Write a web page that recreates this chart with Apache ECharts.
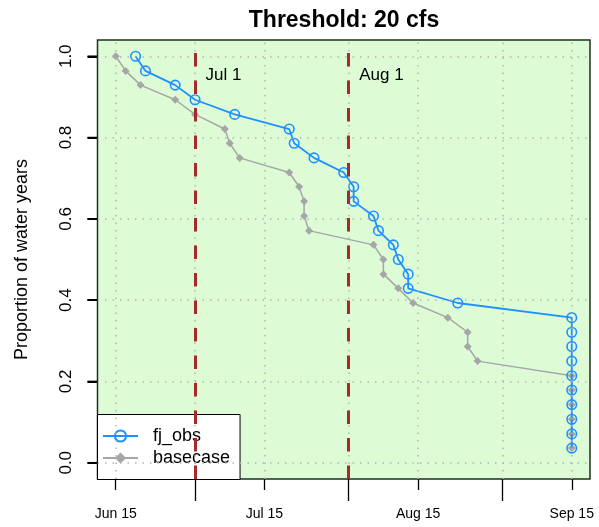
<!DOCTYPE html>
<html><head><meta charset="utf-8">
<script src="https://cdn.jsdelivr.net/npm/echarts@6/dist/echarts.min.js"></script>
<style>html,body{margin:0;padding:0;background:#fff}#c{width:599px;height:527px}</style>
</head><body><div id="c"></div>
<script>
// ---- data (dates as MM-DD within the season) ----
const fjDates = ['06-19','06-21','06-27','07-01','07-09','07-20','07-21','07-25','07-31','08-02',
                 '08-02','08-06','08-07','08-10','08-11','08-13','08-13','08-23','09-15','09-15',
                 '09-15','09-15','09-15','09-15','09-15','09-15','09-15','09-15'];
const fjProp = [1.000,0.964,0.929,0.893,0.857,0.821,0.786,0.750,0.714,0.679,
                0.643,0.607,0.571,0.536,0.500,0.464,0.429,0.393,0.357,0.321,
                0.286,0.250,0.214,0.179,0.143,0.107,0.071,0.036];
const baseDates = ['06-15','06-17','06-20','06-27','07-01','07-07','07-08','07-10','07-20','07-22',
                   '07-23','07-23','07-24','08-06','08-08','08-08','08-11','08-14','08-21','08-25',
                   '08-25','08-27','09-15','09-15','09-15','09-15','09-15','09-15'];
const baseProp = [1.000,0.964,0.929,0.893,0.857,0.821,0.786,0.750,0.714,0.679,
                  0.643,0.607,0.571,0.536,0.500,0.464,0.429,0.393,0.357,0.321,
                  0.286,0.250,0.214,0.179,0.143,0.107,0.071,0.036];
const xTickDates = ['06-15','07-15','08-15','09-15'];
const xTickLabels = ['Jun 15','Jul 15','Aug 15','Sep 15'];
const xMonthDates = ['07-01','08-01','09-01'];
const refDates = ['07-01','08-01'];
const refLabels = ['Jul 1','Aug 1'];
const yTicks = [0, 0.2, 0.4, 0.6, 0.8, 1.0];
const titleText = 'Threshold: 20 cfs';
const yTitle = 'Proportion of water years';

function dayOf(s){ const p = s.split('-').map(Number); return (Date.UTC(2001,p[0]-1,p[1]) - Date.UTC(2001,5,15))/86400000; }

const FONT = '"Liberation Sans", Arial, Helvetica, sans-serif';
const xMinD = dayOf(xTickDates[0]), xMaxD = dayOf(xTickDates[xTickDates.length-1]);
const xPad = (xMaxD - xMinD) * 0.04;
const yPad = (yTicks[yTicks.length-1] - yTicks[0]) * 0.04;
const xLo = xMinD - xPad, xHi = xMaxD + xPad;
const minorDays = xTickDates.map(dayOf);
const majorDays = xMonthDates.map(dayOf);
const refDays = refDates.map(dayOf);
const allGridDays = minorDays.concat(majorDays);

const chart = echarts.init(document.getElementById('c'), null, {renderer:'canvas'});
const option = {
  animation: false,
  title: { text: titleText, left: 344, top: 9, textAlign: 'center', padding: 0,
    textStyle: { fontFamily: FONT, fontWeight: 'bold', fontSize: 23, color: '#000' } },
  grid: { left: 97.5, right: 9, top: 40, bottom: 48, show: true, backgroundColor: '#ddfcd6',
    borderColor: '#1c301c', borderWidth: 1.5 },
  legend: {
    data: ['fj_obs','basecase'], orient: 'vertical', left: 97.5, top: 414.5,
    backgroundColor: '#fff', borderColor: '#000', borderWidth: 1, borderRadius: 0,
    padding: [12.5, 10, 12.5, 4.5], itemWidth: 35, itemHeight: 14, itemGap: 4,
    textStyle: { fontFamily: FONT, fontSize: 18, color: '#000', padding: [0,0,0,10] }
  },
  xAxis: [
    { type: 'value', min: xLo, max: xHi, position: 'bottom',
      axisLine: { show: false, onZero: false }, splitLine: { show: false },
      axisTick: { show: true, customValues: minorDays, length: 11, lineStyle: { color: '#000', width: 1.3 } },
      axisLabel: { show: true, customValues: minorDays, margin: 28, fontFamily: FONT, fontSize: 14, color: '#000',
        formatter: v => { const i = minorDays.indexOf(v); return i >= 0 ? xTickLabels[i] : ''; } } },
    { type: 'value', min: xLo, max: xHi, position: 'bottom',
      axisLine: { show: false, onZero: false }, splitLine: { show: false },
      axisTick: { show: true, customValues: majorDays, length: 22, lineStyle: { color: '#000', width: 1.3 } },
      axisLabel: { show: false } }
  ],
  yAxis: {
    type: 'value', position: 'left', min: yTicks[0] - yPad, max: yTicks[yTicks.length-1] + yPad,
    axisLine: { show: false, onZero: false }, splitLine: { show: false },
    axisTick: { show: true, customValues: yTicks, length: 10, lineStyle: { color: '#000', width: 2 } },
    axisLabel: { customValues: yTicks, rotate: 90, margin: 23, fontFamily: FONT, fontSize: 17, color: '#000',
      formatter: v => v.toFixed(1) },
    name: yTitle, nameLocation: 'middle', nameGap: 66,
    nameTextStyle: { fontFamily: FONT, fontSize: 18, color: '#000' }
  },
  series: [
    { name: 'grid', type: 'line', data: [], z: 1, silent: true,
      markLine: { silent: true, symbol: ['none','none'], animation: false, label: { show: false },
        lineStyle: { color: '#b4b4b4', type: [1.5, 6], width: 1.5 },
        emphasis: { disabled: true },
        data: allGridDays.map(d => ({ xAxis: d })).concat(yTicks.map(v => ({ yAxis: v }))) } },
    { name: 'ref', type: 'line', data: [], z: 2, silent: true,
      markLine: { silent: true, symbol: ['none','none'], animation: false, label: { show: false },
        lineStyle: { color: '#a52a2a', type: [13.5, 14], width: 3 },
        emphasis: { disabled: true },
        data: refDays.map(d => ({ xAxis: d })) },
      markPoint: { silent: true, symbol: 'circle', symbolSize: 1, itemStyle: { color: 'rgba(0,0,0,0)' },
        label: { show: true, position: 'right', distance: 10, fontFamily: FONT, fontSize: 17, color: '#000',
          formatter: p => p.name },
        data: refDays.map((d, i) => ({ name: refLabels[i], coord: [d, 0.952] })) } },
    { name: 'basecase', type: 'line', z: 3,
      data: baseDates.map((d, i) => [dayOf(d), baseProp[i]]),
      symbol: 'diamond', symbolSize: 8, showAllSymbol: true,
      itemStyle: { color: '#a6a6a6' }, lineStyle: { color: '#a6a6a6', width: 1.5 } },
    { name: 'fj_obs', type: 'line', z: 4,
      data: fjDates.map((d, i) => [dayOf(d), fjProp[i]]),
      symbol: 'circle', symbolSize: 9.5, showAllSymbol: true,
      itemStyle: { color: 'rgba(0,0,0,0)', borderColor: '#1e90ff', borderWidth: 1.6 },
      lineStyle: { color: '#1e90ff', width: 1.8 } }
  ]
};
chart.setOption(option);
// y-axis tick marks, placed through the chart's own y scale
const gx = chart.convertToPixel({ xAxisIndex: 0 }, xLo);
chart.setOption({ graphic: yTicks.map(v => {
  const py = chart.convertToPixel({ yAxisIndex: 0 }, v);
  return { type: 'line', z: 100, silent: true, shape: { x1: gx - 10, y1: py, x2: gx, y2: py },
           style: { stroke: '#000', lineWidth: 1.6 } };
}) });
</script>
</body></html>
